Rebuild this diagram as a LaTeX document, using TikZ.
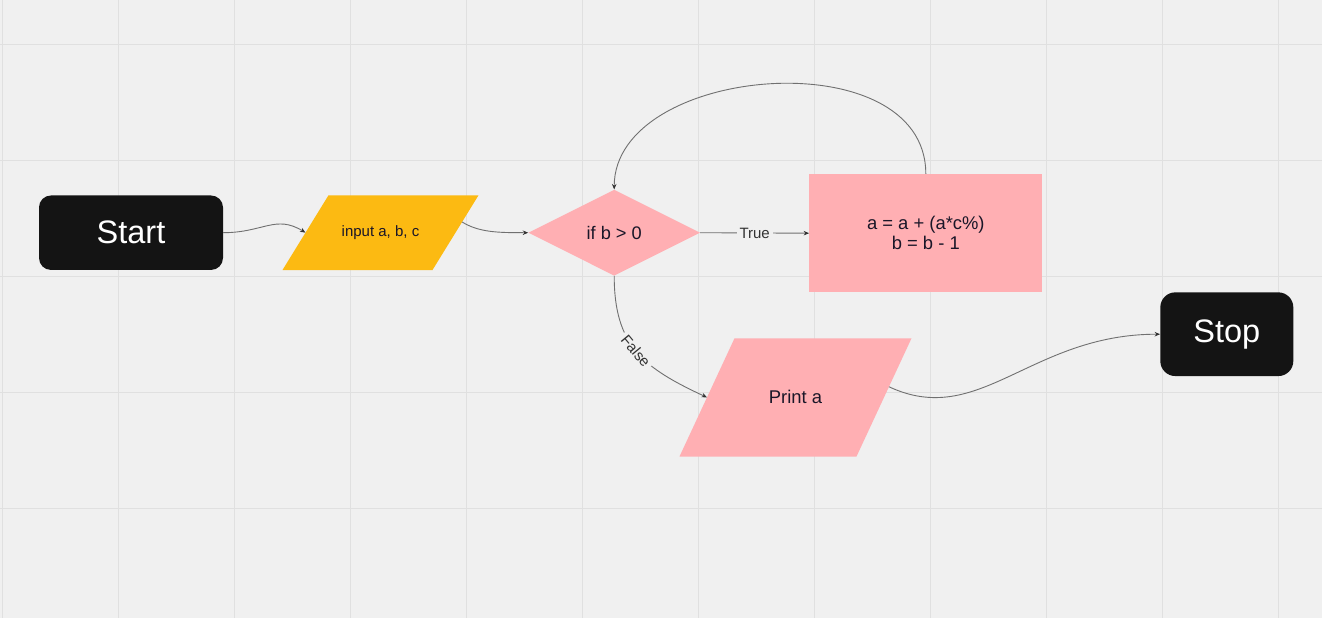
\documentclass[tikz,border=0pt]{standalone}
\usepackage{fontspec}
\setmainfont{Liberation Sans}
\usetikzlibrary{arrows.meta,shapes.geometric,calc}
\definecolor{bgc}{RGB}{240,240,240}
\definecolor{gridc}{RGB}{224,224,224}
\definecolor{termc}{RGB}{20,20,20}
\definecolor{pinkc}{RGB}{255,175,179}
\definecolor{yellowc}{RGB}{252,186,18}
\definecolor{linec}{RGB}{112,112,112}
\definecolor{txtc}{RGB}{26,22,40}
\definecolor{lblc}{RGB}{50,50,50}
\begin{document}
\begin{tikzpicture}[x=1pt,y=-1pt,
  terminal/.style={fill=termc, text=white, inner sep=0pt, font=\fontsize{32.5}{36}\selectfont},
  stepbox/.style={fill=pinkc, inner sep=0pt, text=txtc, font=\fontsize{18.4}{20}\selectfont, align=center},
  decbox/.style={shape=diamond, fill=pinkc, inner sep=0pt, aspect=2, text=txtc, font=\fontsize{18.2}{20}\selectfont},
  txtonly/.style={inner sep=0pt, text=txtc},
  conn/.style={draw=linec, line width=0.9pt, -{Stealth[length=5.5pt,width=4.5pt,color=lblc]}},
  lbl/.style={fill=bgc, text=lblc, font=\fontsize{15}{17}\selectfont, inner xsep=3pt, inner ysep=1pt},
  gridline/.style={draw=gridc, line width=1.2pt},
]
\useasboundingbox (0,0) rectangle (1322,618);
\fill[bgc] (0,0) rectangle (1322,618);
\foreach \gx in {2.5,118.5,234.5,350.5,466.5,582.5,698.5,814.5,930.5,1046.5,1162.5,1278.5} \draw[gridline] (\gx,0) -- (\gx,618);
\foreach \gy in {44.5,160.5,276.5,392.5,508.5} \draw[gridline] (0,\gy) -- (1322,\gy);

% terminals
\node[terminal, rounded corners=12pt, minimum width=184pt, minimum height=74.5pt] (start) at (131,232.7) {Start};
\node[terminal, rounded corners=15pt, minimum width=133pt, minimum height=83.7pt] (stop) at (1226.8,334.2) {Stop};

% input parallelogram
\coordinate (inTL) at (328.5,195.3);
\coordinate (inTR) at (478.5,195.3);
\coordinate (inBR) at (432.5,270);
\coordinate (inBL) at (282.5,270);
\fill[yellowc] (inTL) -- (inTR) -- (inBR) -- (inBL) -- cycle;
\node[txtonly, font=\fontsize{15}{17}\selectfont] (input) at (380.5,232.7) {input a, b, c};

% decision and process
\node[decbox, minimum width=171.6pt, minimum height=86pt] (dec) at (614.2,232.7) {if b > 0};
\node[stepbox, minimum width=233pt, minimum height=118.3pt] (proc) at (925.8,233.2) {a = a + (a*c\%)\\b = b - 1};

% print parallelogram
\coordinate (prTL) at (734.5,338.3);
\coordinate (prTR) at (911.5,338.3);
\coordinate (prBR) at (856.5,456.5);
\coordinate (prBL) at (679.5,456.5);
\fill[pinkc] (prTL) -- (prTR) -- (prBR) -- (prBL) -- cycle;
\node[txtonly, font=\fontsize{18.4}{20}\selectfont] (print) at (795.5,397) {Print a};

% connection points on slanted edges
\coordinate (inL) at ($(inBL)!0.5!(inTL)$);
\coordinate (inR) at ($(inTR)!0.357!(inBR)$);
\coordinate (prL) at ($(prBL)!0.5!(prTL)$);
\coordinate (prR) at ($(prTR)!0.41!(prBR)$);

% connectors
\draw[conn] (start.east) .. controls +(40,0) and +(-29.8,-18.3) .. (inL);
\draw[conn] (inR) .. controls +(17,10.5) and +(-30,0) .. (dec.west);
\draw[conn] (dec.east) -- node[lbl]{True} (proc.west);
\draw[conn] (proc.north) .. controls +(0,-135) and +(0,-125) .. (dec.north);
\draw[conn] (dec.south) .. controls +(0,70) and +(-63.4,-29.5) .. node[lbl, sloped, pos=0.49]{False} (prL);
\draw[conn] (prR) .. controls +(90.6,42.2) and +(-130,0) .. (stop.west);
\end{tikzpicture}
\end{document}
